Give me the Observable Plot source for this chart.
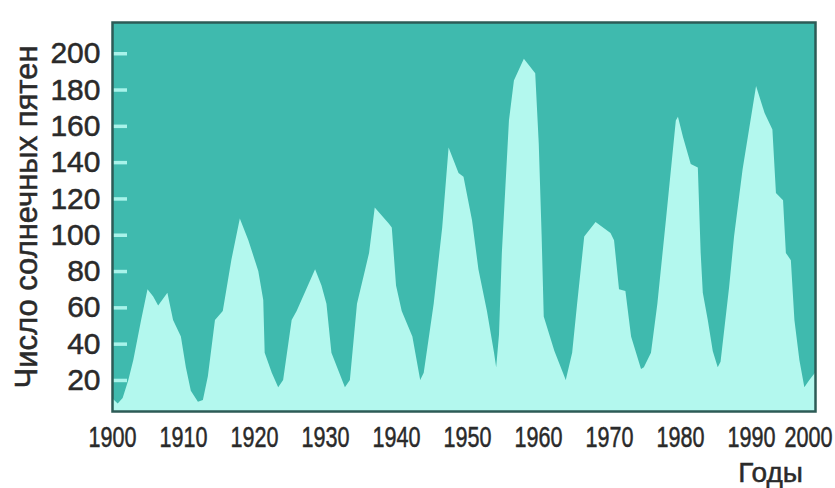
<!DOCTYPE html>
<html>
<head>
<meta charset="utf-8">
<script src="https://cdn.jsdelivr.net/npm/d3@7"></script>
<script src="https://cdn.jsdelivr.net/npm/@observablehq/plot@0.6"></script>
<style>
  html, body { margin: 0; padding: 0; background: #ffffff; }
  #chart { width: 835px; height: 488px; }
  #chart svg text { stroke: #2a2a2a; stroke-width: 0.5px; }
</style>
</head>
<body>
<div id="chart"></div>
<script>
const years = [
  1900.0, 1900.8, 1901.5, 1902.3, 1903.0, 1904.1, 1905.0, 1905.8, 1906.5, 1907.8,
  1908.6, 1909.7, 1910.4, 1911.1, 1912.1, 1912.8, 1913.5, 1914.5, 1915.6, 1916.8,
  1918.0, 1919.2, 1920.6, 1921.3, 1921.5, 1922.5, 1923.4, 1924.1, 1925.3, 1926.0,
  1928.6, 1929.5, 1930.2, 1930.9, 1932.8, 1933.5, 1934.5, 1935.6, 1936.2, 1937.0,
  1939.0, 1939.4, 1940.0, 1940.8, 1942.3, 1943.4, 1943.9, 1945.3, 1946.5, 1947.4,
  1948.8, 1949.5, 1950.7, 1951.6, 1952.8, 1953.8, 1954.1, 1954.5, 1954.9, 1955.9,
  1956.6, 1958.0, 1959.6, 1960.1, 1960.5, 1960.8, 1962.3, 1963.9, 1964.8, 1965.5,
  1966.5, 1968.1, 1970.2, 1970.7, 1971.4, 1972.3, 1973.1, 1974.5, 1974.9, 1975.9,
  1976.8, 1978.0, 1979.4, 1979.7, 1980.4, 1981.5, 1982.5, 1982.9, 1983.2, 1983.9,
  1984.6, 1985.3, 1985.7, 1986.9, 1987.6, 1988.8, 1990.7, 1991.9, 1993.0, 1993.5,
  1994.5, 1994.9, 1995.6, 1996.1, 1996.8, 1997.5, 1998.2, 1999.0
];
const sunspots = [
  10, 7, 10, 20, 31, 53, 70, 66, 61, 68,
  53, 44, 27, 14, 8, 9, 22, 53, 58, 86,
  109, 97, 80, 64, 35, 24, 16, 20, 53, 58,
  81, 72, 62, 35, 16, 20, 62, 80, 90, 115,
  106, 104, 72, 58, 44, 20, 24, 62, 104, 148,
  134, 132, 108, 81, 58, 35, 27, 45, 90, 163,
  185, 197, 189, 150, 100, 55, 36, 20, 35, 62,
  99, 107, 101, 97, 70, 69, 44, 26, 27, 35,
  62, 108, 163, 165, 154, 139, 137, 90, 68, 53,
  36, 27, 30, 71, 99, 136, 182, 167, 158, 123,
  119, 90, 86, 53, 31, 16, 20, 24
];
const xTicks = [1900, 1910, 1920, 1930, 1940, 1950, 1960, 1970, 1980, 1990, 2000];
const yTicks = [20, 40, 60, 80, 100, 120, 140, 160, 180, 200];
const yLabel = "Число солнечных пятен";
const xLabel = "Годы";

const data = years.map((t, i) => ({year: t, value: sunspots[i]}));

const chart = Plot.plot({
  width: 835,
  height: 488,
  marginTop: 22,
  marginBottom: 77,
  marginLeft: 112,
  marginRight: 20,
  style: {background: "#ffffff", fontFamily: "'Liberation Sans', Arial, sans-serif", color: "#2a2a2a"},
  x: {domain: [1900, 1999], axis: null},
  y: {domain: [2.9, 217.2], axis: null},
  marks: [
    Plot.frame({fill: "#3fbaae", stroke: null}),
    Plot.areaY(data, {x: "year", y: "value", fill: "#b3f8ee", clip: true}),
    Plot.axisY(yTicks, {anchor: "left", tickSize: -15, text: null, label: null, stroke: "#a8f3ea", strokeWidth: 3.5}),
    Plot.axisY(yTicks, {anchor: "left", tickSize: 0, tickPadding: 12, fontSize: 30, fill: "#2a2a2a", label: null}),
    Plot.axisX(xTicks, {anchor: "bottom", tickSize: 0, tickPadding: 15, fontSize: 29, fill: "#2a2a2a", label: null, tickFormat: d => String(d)}),
    Plot.frame({stroke: "#2d5b56", strokeWidth: 2.5}),
    Plot.text([yLabel], {frameAnchor: "left", textAnchor: "middle", lineAnchor: "middle", rotate: -90, dx: -85, fontSize: 31, fill: "#2a2a2a"}),
    Plot.text([xLabel], {frameAnchor: "bottom-right", textAnchor: "middle", lineAnchor: "middle", dx: -45, dy: 62, fontSize: 28, fill: "#2a2a2a"})
  ]
});

document.getElementById("chart").appendChild(chart);

// condensed look of the year labels
const xLabels = chart.querySelectorAll('g[aria-label="x-axis tick label"] text');
xLabels.forEach((t, i) => {
  t.setAttribute("textLength", "48");
  t.setAttribute("lengthAdjust", "spacingAndGlyphs");
  if (i === xLabels.length - 1) {
    t.setAttribute("text-anchor", "end");
    t.setAttribute("x", (parseFloat(t.getAttribute("x") || "0") + 10).toString());
  }
});
</script>
</body>
</html>
